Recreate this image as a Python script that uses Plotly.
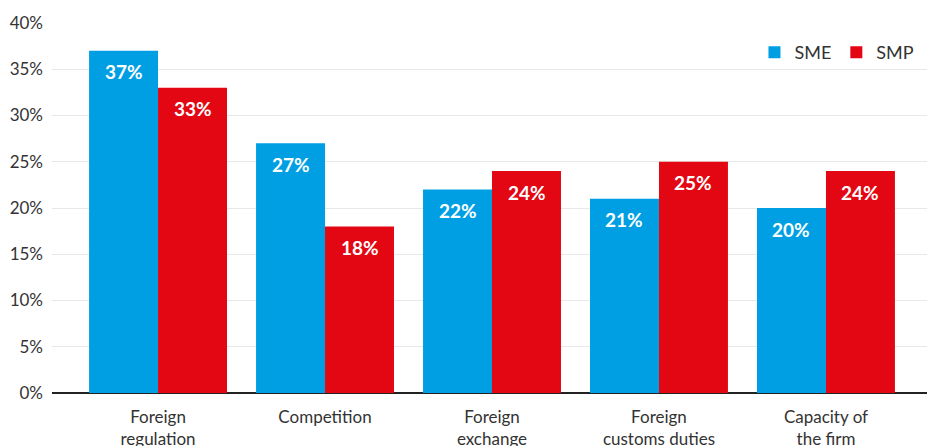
import plotly.graph_objects as go

categories = ["Foreign<br>regulation", "Competition", "Foreign<br>exchange",
              "Foreign<br>customs duties", "Capacity of<br>the firm"]
sme = [37, 27, 22, 21, 20]
smp = [33, 18, 24, 25, 24]
y_ticks = [0, 5, 10, 15, 20, 25, 30, 35, 40]

BLUE = "#009FE3"
RED = "#E30613"
FONT = "Lato"

fig = go.Figure()
fig.add_trace(go.Bar(x=list(range(len(categories))), y=sme, name="SME",
                     marker_color=BLUE, marker_line_width=0))
fig.add_trace(go.Bar(x=list(range(len(categories))), y=smp, name="SMP",
                     marker_color=RED, marker_line_width=0))

# value labels near the top of each bar
for i in range(len(categories)):
    for vals, shift in ((sme, -34.5), (smp, 34.5)):
        fig.add_annotation(x=i, y=vals[i], text=f"<b>{vals[i]}%</b>",
                           showarrow=False, xshift=shift, yshift=-21,
                           font=dict(family=FONT, size=19, color="white"))

# page body has an 8px margin, so margins are offset by it
fig.update_layout(
    width=935, height=446,
    margin=dict(l=44, r=13, t=15, b=61),
    plot_bgcolor="white", paper_bgcolor="white",
    barmode="group", bargap=0.174, bargroupgap=0,
    font=dict(family=FONT, size=16, color="#333333"),
    legend=dict(orientation="h", x=0.988, xanchor="right", y=0.92, yanchor="middle",
                font=dict(size=18, color="#333333"), itemwidth=30,
                bgcolor="rgba(0,0,0,0)"),
    showlegend=True,
)
fig.update_xaxes(range=[-0.635, 4.623], tickvals=list(range(len(categories))),
                 ticktext=categories, showgrid=False, zeroline=False,
                 showline=False, ticks="", automargin=False, ticklabelstandoff=12,
                 tickfont=dict(size=17, color="#333333"))
fig.update_yaxes(range=[0, 40], tickvals=y_ticks,
                 ticktext=[f"{v}%" for v in y_ticks],
                 showgrid=True, gridcolor="#E8E8E8", gridwidth=1,
                 zeroline=True, zerolinecolor="#222222", zerolinewidth=2,
                 showline=False, ticks="", ticklabelstandoff=8, automargin=False,
                 tickfont=dict(size=17, color="#333333"))

fig.write_html("out.html")
